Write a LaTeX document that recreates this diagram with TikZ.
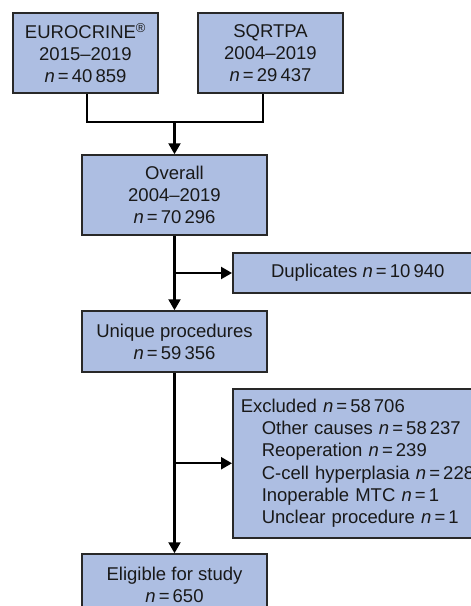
\documentclass[tikz,border=0pt]{standalone}
\usepackage{fontspec}
\setmainfont{Liberation Sans}
\definecolor{BoxColor}{RGB}{173,190,226}
\definecolor{EdgeColor}{RGB}{40,40,40}
\definecolor{TextColor}{RGB}{25,25,25}
\usepackage{tikz}
\usetikzlibrary{positioning, arrows.meta, calc}
\tikzstyle{box} = [draw=EdgeColor, line width=1.5pt, fill=BoxColor, text=TextColor, inner sep=0pt, align=center, font=\fontsize{18.5}{22.2}\selectfont]
\tikzstyle{arrow} = [line width=2.2pt, black, -{Triangle[width=12pt,length=11pt]}]
\tikzstyle{line} = [line width=1.8pt, black]
\newcommand{\nn}{\textit{n}\,=\,}

\begin{document}
\begin{tikzpicture}[x=1pt, y=-1pt]
    \useasboundingbox (0,0) rectangle (471,606);
    \clip (0,0) rectangle (471,606);

    % Sources
    \node[box, minimum width=145pt, minimum height=80pt] (euro) at (85.5,53)
        {EUROCRINE\textsuperscript{\textregistered}\\2015--2019\\\nn 40\,859};
    \node[box, minimum width=145pt, minimum height=80pt] (sqrtpa) at (270.5,53)
        {SQRTPA\\2004--2019\\\nn 29\,437};

    % Main column
    \node[box, minimum width=185pt, minimum height=80pt] (overall) at (174.5,195)
        {Overall\\2004--2019\\\nn 70\,296};
    \node[box, minimum width=185pt, minimum height=61pt] (unique) at (174.5,341.5)
        {Unique procedures\\\nn 59\,356};
    \node[box, minimum width=185pt, minimum height=61pt] (eligible) at (174.5,584.5)
        {Eligible for study\\\nn 650};

    % Exclusions
    \node[box, minimum width=250pt, minimum height=40pt, anchor=west] (dup) at (232,273)
        {Duplicates \nn 10\,940};
    \node[box, minimum width=250pt, minimum height=149pt, anchor=north west, align=left, text width=240pt, inner xsep=8pt] (excl) at (232,388)
        {Excluded \nn 58\,706\\
        \hspace*{21pt}Other causes \nn 58\,237\\
        \hspace*{21pt}Reoperation \nn 239\\
        \hspace*{21pt}C-cell hyperplasia \nn 228\\
        \hspace*{21pt}Inoperable MTC \nn 1\\
        \hspace*{21pt}Unclear procedure \nn 1};

    % Connectors
    \coordinate (join) at (174.5,122);
    \draw[line] ([xshift=1.5pt]euro.south) |- (join) -| ([xshift=-7.5pt]sqrtpa.south);
    \draw[arrow] (join) -- (overall.north);
    \draw[arrow] (overall.south) -- (unique.north);
    \draw[arrow] (overall.south |- dup.west) -- (dup.west);
    \draw[arrow] (unique.south) -- (eligible.north);
    \draw[arrow] (unique.south |- excl.west) -- (excl.west);
\end{tikzpicture}
\end{document}
